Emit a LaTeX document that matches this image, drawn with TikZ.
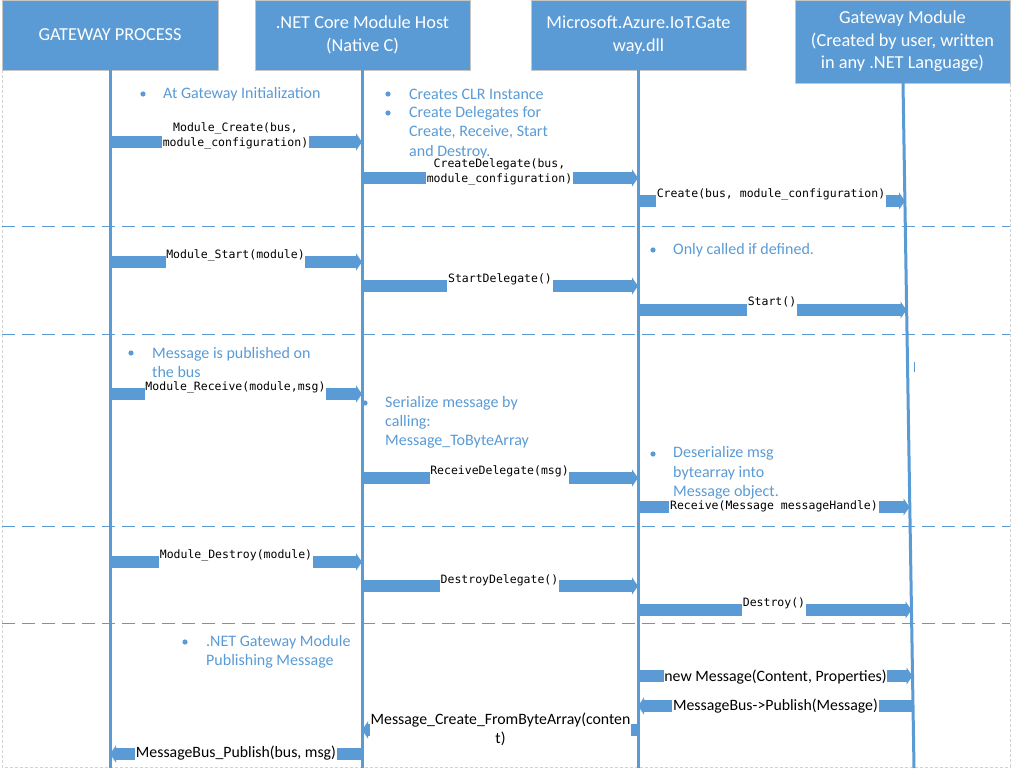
\documentclass[tikz,border=0pt]{standalone}
\usepackage{fontspec}
\setmainfont{Carlito}
\newfontfamily\monofnt{DejaVu Sans Mono}
\usetikzlibrary{arrows.meta}
\definecolor{blu}{HTML}{5B9BD5}
\begin{document}
\begin{tikzpicture}[x=1pt,y=-1pt,
  hdr/.style={fill=blu, draw=gray!45, line width=0.6pt, text=white, font=\fontsize{18.3}{22.5}\selectfont, align=center, inner sep=0pt},
  life/.style={draw=blu, line width=3pt},
  bar/.style={draw=blu, line width=11.5pt},
  bartip/.style={bar, -{Triangle[length=6pt,width=17pt]}},
  mlbl/.style={font=\monofnt\fontsize{11.5}{15}\selectfont, text=black, align=center, inner sep=0.5pt, fill=white},
  slbl/.style={font=\fontsize{15.8}{19}\selectfont, text=black, align=center, inner sep=0.5pt, fill=white},
  note/.style={font=\fontsize{16}{19.3}\selectfont, text=blu, align=left, anchor=west, inner sep=0pt},
  sepline/.style={draw=blu, line width=1.4pt, dash pattern=on 13pt off 7pt},
  framel/.style={draw=gray!35, line width=0.8pt, dash pattern=on 3pt off 2pt},
  dot/.style={fill=blu}
]
\useasboundingbox (0,0) rectangle (1015,770);
\fill[white] (0,0) rectangle (1015,770);

% frame
\draw[framel] (2,70) -- (2,767) -- (1010,767) -- (1010,83);

% separators
\foreach \yy in {226.5,334.5,526.5,623.5} {\draw[sepline] (2,\yy) -- (1010,\yy);}

% headers
\node[hdr, minimum width=216pt, minimum height=70pt] (H1) at (110,35) {GATEWAY PROCESS};
\node[hdr, minimum width=215pt, minimum height=70pt] (H2) at (362.5,35) {.NET Core Module Host\\(Native C)};
\node[hdr, minimum width=215pt, minimum height=70pt] (H3) at (638.5,35) {Microsoft.Azure.IoT.Gate\\way.dll};
\node[hdr, minimum width=215pt, minimum height=83pt] (H4) at (902.5,41.5) {Gateway Module\\(Created by user, written\\in any .NET Language)};

% lifelines
\coordinate (B1) at (110,768);
\coordinate (B2) at (362,768);
\coordinate (B3) at (638,768);
\coordinate (B4) at (914,768);
\draw[life] (H1.south -| B1) -- (B1);
\draw[life] (H2.south -| B2) -- (B2);
\draw[life] (H3.south -| B3) -- (B3);
\draw[life] (903,83) -- (B4);
\draw[blu, line width=1pt] (914,362) -- (914,372);

% notes
\node[note] (n1) at (163,94) {At Gateway Initialization};
\node[note] (n2a) at (409,94) {Creates CLR Instance};
\node[note] (n2b) at (409,132.5) {Create Delegates for\\Create, Receive, Start\\and Destroy.};
\node[note] (n3) at (673,250) {Only called if defined.};
\node[note] (n4) at (152,362.5) {Message is published on\\the bus};
\node[note] (n5) at (385,422.5) {Serialize message by\\calling:\\Message\_ToByteArray};
\node[note] (n6) at (673,473) {Deserialize msg\\bytearray into\\Message object.};
\node[note] (n7) at (206,651.5) {.NET Gateway Module\\Publishing Message};
\foreach \bx/\by in {143/94, 388/94, 388/113, 653/250, 131/353, 365/403, 653/454, 185/642}
  {\fill[dot] (\bx,\by) circle (2.6pt);}

% ---- arrows ----
% 1
\coordinate (a1s) at (110,142); \coordinate (a1e) at (362,142);
\node[mlbl] (m1) at (235.5,136) {Module\_Create(bus,\\module\_configuration)};
\draw[bar] (a1s) -- (a1s -| m1.west);
\draw[bartip] (a1e -| m1.east) -- (a1e);
% 2
\coordinate (a2s) at (362,178); \coordinate (a2e) at (638,178);
\node[mlbl] (m2) at (499.5,172) {CreateDelegate(bus,\\module\_configuration)};
\draw[bar] (a2s) -- (a2s -| m2.west);
\draw[bartip] (a2e -| m2.east) -- (a2e);
% 3
\coordinate (a3s) at (638,201); \coordinate (a3e) at (905,201);
\node[mlbl] (m3) at (771,194) {Create(bus, module\_configuration)};
\draw[bar] (a3s) -- (a3s -| m3.west);
\draw[bartip] (a3e -| m3.east) -- (a3e);
% 4
\coordinate (a4s) at (110,262); \coordinate (a4e) at (362,262);
\node[mlbl] (m4) at (235.5,255) {Module\_Start(module)};
\draw[bar] (a4s) -- (a4s -| m4.west);
\draw[bartip] (a4e -| m4.east) -- (a4e);
% 5
\coordinate (a5s) at (362,286); \coordinate (a5e) at (638,286);
\node[mlbl] (m5) at (500,279) {StartDelegate()};
\draw[bar] (a5s) -- (a5s -| m5.west);
\draw[bartip] (a5e -| m5.east) -- (a5e);
% 6
\coordinate (a6s) at (638,310); \coordinate (a6e) at (906.5,310);
\node[mlbl] (m6) at (772,302) {Start()};
\draw[bar] (a6s) -- (a6s -| m6.west);
\draw[bartip] (a6e -| m6.east) -- (a6e);
% 7
\coordinate (a7s) at (110,394); \coordinate (a7e) at (362,394);
\node[mlbl] (m7) at (235.5,387) {Module\_Receive(module,msg)};
\draw[bar] (a7s) -- (a7s -| m7.west);
\draw[bartip] (a7e -| m7.east) -- (a7e);
% 8
\coordinate (a8s) at (362,478); \coordinate (a8e) at (638,478);
\node[mlbl] (m8) at (499.5,471) {ReceiveDelegate(msg)};
\draw[bar] (a8s) -- (a8s -| m8.west);
\draw[bartip] (a8e -| m8.east) -- (a8e);
% 9
\coordinate (a9s) at (638,507); \coordinate (a9e) at (909.5,507);
\node[mlbl] (m9) at (774,506) {Receive(Message messageHandle)};
\draw[bar] (a9s) -- (a9s -| m9.west);
\draw[bartip] (a9e -| m9.east) -- (a9e);
% 10
\coordinate (a10s) at (110,562); \coordinate (a10e) at (362,562);
\node[mlbl] (m10) at (236,555) {Module\_Destroy(module)};
\draw[bar] (a10s) -- (a10s -| m10.west);
\draw[bartip] (a10e -| m10.east) -- (a10e);
% 11
\coordinate (a11s) at (362,586); \coordinate (a11e) at (638,586);
\node[mlbl] (m11) at (499.5,580) {DestroyDelegate()};
\draw[bar] (a11s) -- (a11s -| m11.west);
\draw[bartip] (a11e -| m11.east) -- (a11e);
% 12
\coordinate (a12s) at (638,610); \coordinate (a12e) at (911.5,610);
\node[mlbl] (m12) at (774,603) {Destroy()};
\draw[bar] (a12s) -- (a12s -| m12.west);
\draw[bartip] (a12e -| m12.east) -- (a12e);
% 13
\coordinate (a13s) at (638,676); \coordinate (a13e) at (912.5,676);
\node[slbl] (m13) at (775.5,677) {new Message(Content, Properties)};
\draw[bar] (a13s) -- (a13s -| m13.west);
\draw[bartip] (a13e -| m13.east) -- (a13e);
% 14 (leftward)
\coordinate (a14s) at (913,706); \coordinate (a14e) at (638,706);
\node[slbl] (m14) at (775.5,706) {MessageBus->Publish(Message)};
\draw[bar] (a14s) -- (a14s -| m14.east);
\draw[bartip] (a14e -| m14.west) -- (a14e);
% 15 (leftward)
\coordinate (a15s) at (638,730); \coordinate (a15e) at (362,730);
\node[slbl] (m15) at (500.5,729.5) {Message\_Create\_FromByteArray(conten\\t)};
\draw[bar] (a15s) -- (a15s -| m15.east);
\draw[bartip] (a15e -| m15.west) -- (a15e);
% 16 (leftward)
\coordinate (a16s) at (362,754); \coordinate (a16e) at (110,754);
\node[slbl] (m16) at (236,753) {MessageBus\_Publish(bus, msg)};
\draw[bar] (a16s) -- (a16s -| m16.east);
\draw[bartip] (a16e -| m16.west) -- (a16e);
\end{tikzpicture}
\end{document}
